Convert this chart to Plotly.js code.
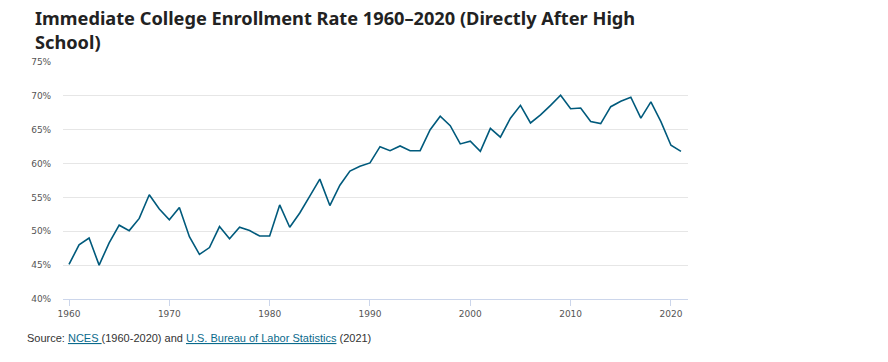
<!DOCTYPE html>
<html>
<head>
<meta charset="utf-8">
<script src="https://cdn.plot.ly/plotly-3.0.1.min.js"></script>
<style>html,body{margin:0;padding:0;background:#fff;}#chart{width:888px;height:362px;}</style>
</head>
<body>
<div id="chart"></div>
<script>
const years = [1960,1961,1962,1963,1964,1965,1966,1967,1968,1969,1970,1971,1972,1973,1974,1975,1976,1977,1978,1979,1980,1981,1982,1983,1984,1985,1986,1987,1988,1989,1990,1991,1992,1993,1994,1995,1996,1997,1998,1999,2000,2001,2002,2003,2004,2005,2006,2007,2008,2009,2010,2011,2012,2013,2014,2015,2016,2017,2018,2019,2020,2021];
const rates = [45.1,48.0,49.0,45.0,48.3,50.9,50.1,51.9,55.4,53.3,51.7,53.5,49.2,46.6,47.6,50.7,48.9,50.6,50.1,49.3,49.3,53.9,50.6,52.7,55.2,57.7,53.8,56.8,58.9,59.6,60.1,62.5,61.9,62.6,61.9,61.9,65.0,67.0,65.6,62.9,63.3,61.8,65.2,63.9,66.7,68.6,66.0,67.2,68.6,70.1,68.1,68.2,66.2,65.9,68.4,69.2,69.8,66.7,69.1,66.2,62.7,61.8];
const xTicks = [1960,1970,1980,1990,2000,2010,2020];
const yTicks = [40,45,50,55,60,65,70,75];
const yTickLabels = ["40%","45%","50%","55%","60%","65%","70%","75%"];
const titleText = "Immediate College Enrollment Rate 1960–2020 (Directly After High<br>School)";
const sourceText = 'Source: <a href="#" style="color:#0a6a8c;text-decoration:underline;">NCES </a>(1960-2020) and <a href="#" style="color:#0a6a8c;text-decoration:underline;">U.S. Bureau of Labor Statistics</a> (2021)';

const trace = {
  x: years, y: rates, type: 'scatter', mode: 'lines',
  line: {color: '#005a7c', width: 1.6},
  hoverinfo: 'x+y'
};

const plotL = 63, plotW = 625, plotT = 62, plotH = 237;
const px = v => (v - plotL) / plotW;
const py = v => (plotT + plotH - v) / plotH;

const titleFont = {family: 'Noto Sans, sans-serif', size: 18.2, color: '#222222', weight: 700};

const layout = {
  width: 888, height: 362,
  margin: {l: plotL, r: 888 - plotL - plotW, t: plotT, b: 362 - plotT - plotH},
  paper_bgcolor: '#ffffff', plot_bgcolor: '#ffffff',
  showlegend: false,
  xaxis: {
    range: [1959.4, 2021.7],
    tickvals: xTicks, ticktext: xTicks.map(String),
    showgrid: false, zeroline: false,
    showline: true, linecolor: '#ccd6eb', linewidth: 1,
    ticks: 'outside', ticklen: 6, tickcolor: '#ccd6eb', tickwidth: 1,
    tickfont: {family: 'DejaVu Sans, sans-serif', size: 9, color: '#555555'},
    fixedrange: true
  },
  yaxis: {
    range: [40, 75],
    tickvals: yTicks, ticktext: yTickLabels,
    showgrid: true, gridcolor: '#e6e6e6', gridwidth: 1,
    zeroline: false, showline: false,
    ticks: 'outside', ticklen: 9, tickcolor: 'rgba(0,0,0,0)',
    tickfont: {family: 'DejaVu Sans, sans-serif', size: 9, color: '#555555'},
    fixedrange: true
  },
  annotations: [
    {text: titleText, showarrow: false, xref: 'paper', yref: 'paper', align: 'left',
     x: px(34), xanchor: 'left', y: py(30.5), yanchor: 'middle', font: titleFont, borderpad: 0},
    {text: sourceText, showarrow: false, xref: 'paper', yref: 'paper',
     x: px(25), xanchor: 'left', y: py(338), yanchor: 'middle',
     font: {family: 'Liberation Sans, Arial, sans-serif', size: 11, color: '#333333'}}
  ]
};

Plotly.newPlot('chart', [trace], layout, {displayModeBar: false, staticPlot: true});
</script>
</body>
</html>
